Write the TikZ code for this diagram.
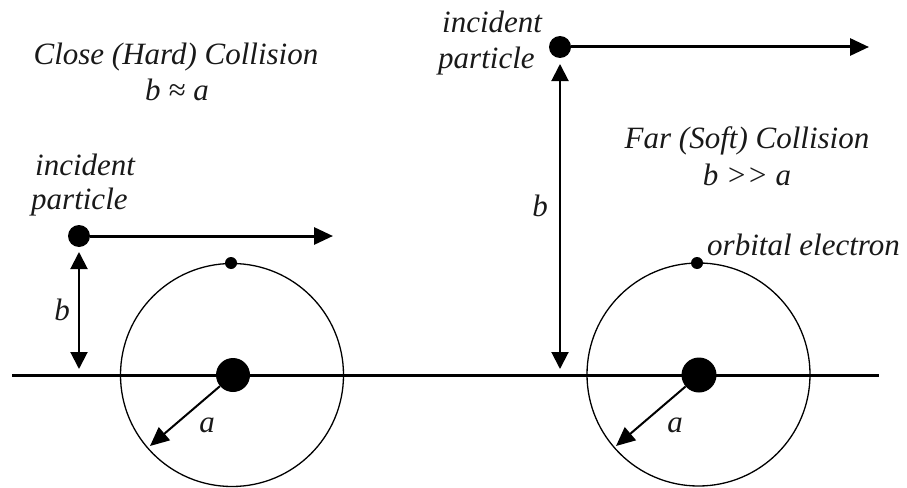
\documentclass[tikz,border=0pt]{standalone}
\usepackage{fontspec}
\setmainfont{Liberation Serif}
\usetikzlibrary{arrows.meta}
\begin{document}
\begin{tikzpicture}[x=1pt,y=-1pt,
  txt/.style={font=\fontsize{31}{34}\selectfont\itshape, inner sep=0pt, text=black!90},
  dot/.style={circle, fill=black, inner sep=0pt, minimum size=#1},
  atom/.style={circle, draw=black, line width=1.3pt, inner sep=0pt, minimum size=223pt},
  fly/.style={-{Triangle[length=19pt,width=17pt]}, line width=3pt},
  dist/.style={{Triangle[length=17pt,width=17pt]}-{Triangle[length=17pt,width=17pt]}, line width=2pt},
  rad/.style={-{Triangle[length=19pt,width=17pt]}, line width=2pt},
  axis/.style={line width=3pt}]
\useasboundingbox (0,0) rectangle (907,487);

% axis
\coordinate (axL) at (12,375);
\coordinate (axR) at (879,375);
\draw[axis] (axL) -- (axR);

% ---------- left: close collision ----------
\node[atom] (atomL) at (232,375) {};
\node[dot=34pt] (nucL) at (233,375) {};
\node[dot=12pt] (elL) at (231,263) {};
\coordinate (aTipL) at (150,446);
\draw[rad] (nucL) -- (aTipL);
\node[txt] (aL) at (207,425) {a};

\node[dot=22pt] (pL) at (79,236) {};
\coordinate (pLend) at (333,236);
\draw[fly] (pL) -- (pLend);
\coordinate (bLtop) at (79,252);
\coordinate (bLbot) at (79,369);
\draw[dist] (bLtop) -- (bLbot);
\node[txt] (bL) at (62,310) {b};

\node[txt, anchor=base west] (incL1) at (35,175) {incident};
\node[txt, anchor=base west] (incL2) at (31,209) {particle};
\node[txt, anchor=base] (titL1) at (176,65) {Close (Hard) Collision};
\node[txt, anchor=base] (titL2) at (177,100) {b ≈ a};

% ---------- right: far collision ----------
\node[atom] (atomR) at (698.5,374.5) {};
\node[dot=35pt] (nucR) at (699,375) {};
\node[dot=12pt] (elR) at (697,263) {};
\coordinate (aTipR) at (616,446);
\draw[rad] (nucR) -- (aTipR);
\node[txt] (aR) at (675,425) {a};
\node[txt, anchor=base west] (orb) at (707,255) {orbital electron};

\node[dot=22pt] (pR) at (560,47) {};
\coordinate (pRend) at (869,47);
\draw[fly] (pR) -- (pRend);
\coordinate (bRtop) at (560,64);
\coordinate (bRbot) at (560,369);
\draw[dist] (bRtop) -- (bRbot);
\node[txt] (bR) at (540,206) {b};

\node[txt, anchor=base west] (incR1) at (442,33) {incident};
\node[txt, anchor=base west] (incR2) at (438,68) {particle};
\node[txt, anchor=base] (titR1) at (747,148) {Far (Soft) Collision};
\node[txt, anchor=base] (titR2) at (747,185) {b >\kern0pt> a};
\end{tikzpicture}
\end{document}
